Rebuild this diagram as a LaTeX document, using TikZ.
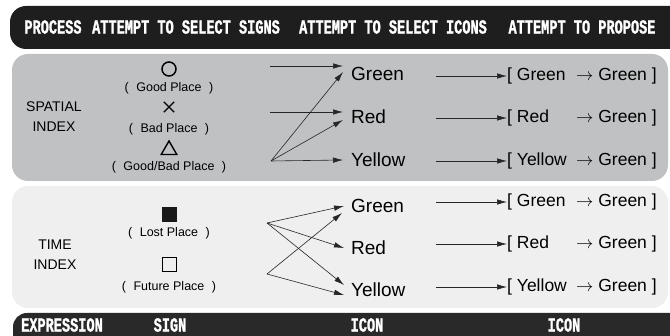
\documentclass[tikz,border=0pt]{standalone}
\usepackage{fontspec}
\setmainfont{Liberation Sans}
\newfontfamily\barfont[FakeStretch=0.68,FakeBold=1.2]{Liberation Mono}
\usepackage{tikz}
\usetikzlibrary{arrows.meta,positioning,shapes.geometric,shapes.misc}

\definecolor{barblack}{HTML}{1E1E1E}
\definecolor{spatialgray}{HTML}{BFC1C2}
\definecolor{timegray}{HTML}{EFEFEF}

\newcommand{\paren}[1]{(\hspace{0.6em}#1\hspace{0.6em})}
\newcommand{\propose}[1]{\makebox[69pt][l]{[\ #1}$\rightarrow$\ Green\ ]}

\tikzset{
  bartext/.style={text=white, inner sep=0pt, font=\barfont\bfseries\fontsize{20}{20}\selectfont},
  indextext/.style={align=center, font=\fontsize{14}{20}\selectfont},
  placetext/.style={inner sep=0pt, font=\fontsize{12.5}{13}\selectfont},
  icontext/.style={anchor=west, inner sep=1pt, font=\fontsize{19}{20}\selectfont},
  proptext/.style={anchor=west, inner sep=0pt, font=\fontsize{17.5}{20}\selectfont},
  link/.style={-{Latex[length=10pt,width=5.5pt]}, line width=0.6pt, black!85},
}

\begin{document}
\begin{tikzpicture}[x=1pt,y=-1pt]
\useasboundingbox (0,0) rectangle (670,336);

% Bars and panels
\begin{scope}
\clip (0,0) rectangle (670,336);
\fill[barblack, rounded corners=16pt] (10,6) rectangle (700,49);
\fill[barblack!95, rounded corners=14pt] (13,313) rectangle (700,360);
\fill[spatialgray, rounded corners=16pt] (12,54) rectangle (668,181);
\fill[timegray, rounded corners=16pt] (12,186) rectangle (668,308);
\end{scope}

% Header
\node[bartext] (process) at (53,27) {PROCESS};
\node[bartext] (selsign) at (186,27) {ATTEMPT TO SELECT SIGNS};
\node[bartext] (selicon) at (393,27) {ATTEMPT TO SELECT ICONS};
\node[bartext] (propose) at (582,27) {ATTEMPT TO PROPOSE};

% Footer
\node[bartext] (expression) at (62,325) {EXPRESSION};
\node[bartext] (sign) at (170,325) {SIGN};
\node[bartext] (icon) at (367,325) {ICON};
\node[bartext] (iconb) at (564,325) {ICON};

% Index labels
\node[indextext] (spatial) at (54,117) {SPATIAL\\INDEX};
\node[indextext] (time) at (55,255) {TIME\\INDEX};

% Signs
\node[draw, circle, line width=1.5pt, minimum size=14pt, inner sep=0pt] (good) at (169,69) {};
\node[placetext] (goodtxt) at (169,88) {\paren{Good Place}};
\node[draw, cross out, line width=1.4pt, minimum size=9pt, inner sep=0pt] (bad) at (169,107) {};
\node[placetext] (badtxt) at (169,129) {\paren{Bad Place}};
\node[draw, regular polygon, regular polygon sides=3, line width=1.4pt, minimum size=18pt, inner sep=0pt] (both) at (169,150) {};
\node[placetext] (bothtxt) at (169,167) {\paren{Good/Bad Place}};

\node[fill=black!90, minimum size=15pt, inner sep=0pt] (lost) at (169.5,214.5) {};
\node[placetext] (losttxt) at (169,233) {\paren{Lost Place}};
\node[draw, line width=1pt, minimum size=14pt, inner sep=0pt] (future) at (169.5,264.5) {};
\node[placetext] (futuretxt) at (169,287) {\paren{Future Place}};

% Icons
\node[icontext] (g1) at (350,74) {Green};
\node[icontext] (r1) at (350,117) {Red};
\node[icontext] (y1) at (350,160) {Yellow};
\node[icontext] (g2) at (350,206) {Green};
\node[icontext] (r2) at (350,248) {Red};
\node[icontext] (y2) at (350,290) {Yellow};

% Proposals
\node[proptext] (p1) at (507,76) {\propose{Green}};
\node[proptext] (p2) at (507,118) {\propose{Red}};
\node[proptext] (p3) at (507,161) {\propose{Yellow}};
\node[proptext] (p4) at (507,202) {\propose{Green}};
\node[proptext] (p5) at (507,244) {\propose{Red}};
\node[proptext] (p6) at (507,287) {\propose{Yellow}};

% Sign -> icon, spatial
\coordinate (c1) at (270,66);
\coordinate (c2) at (270,112);
\coordinate (c3) at (271,161);
\draw[link] (c1) -- ([xshift=-7pt,yshift=8pt]g1.west);
\draw[link] (c2) -- ([xshift=-7pt,yshift=5pt]r1.west);
\draw[link] (c3) -- ([xshift=-7pt,yshift=2pt]g1.west);
\draw[link] (c3) -- ([xshift=-7pt,yshift=-3pt]r1.west);
\draw[link] (c3) -- ([xshift=-7pt]y1.west);

% Sign -> icon, time
\coordinate (c4) at (267,223);
\coordinate (c5) at (267,274);
\draw[link] (c4) -- ([xshift=-6pt]g2.west);
\draw[link] (c4) -- ([xshift=-6pt]r2.west);
\draw[link] (c4) -- ([xshift=-6pt,yshift=5pt]y2.west);
\draw[link] (c5) -- ([xshift=-8pt,yshift=-7pt]g2.west);
\draw[link] (c5) -- ([xshift=-6pt,yshift=-5pt]y2.west);

% Icon -> proposal
\foreach \p in {p1,p2,p3,p4,p5,p6}
  \draw[link] ([xshift=-71pt]\p.west) -- (\p.west);

\end{tikzpicture}
\end{document}
